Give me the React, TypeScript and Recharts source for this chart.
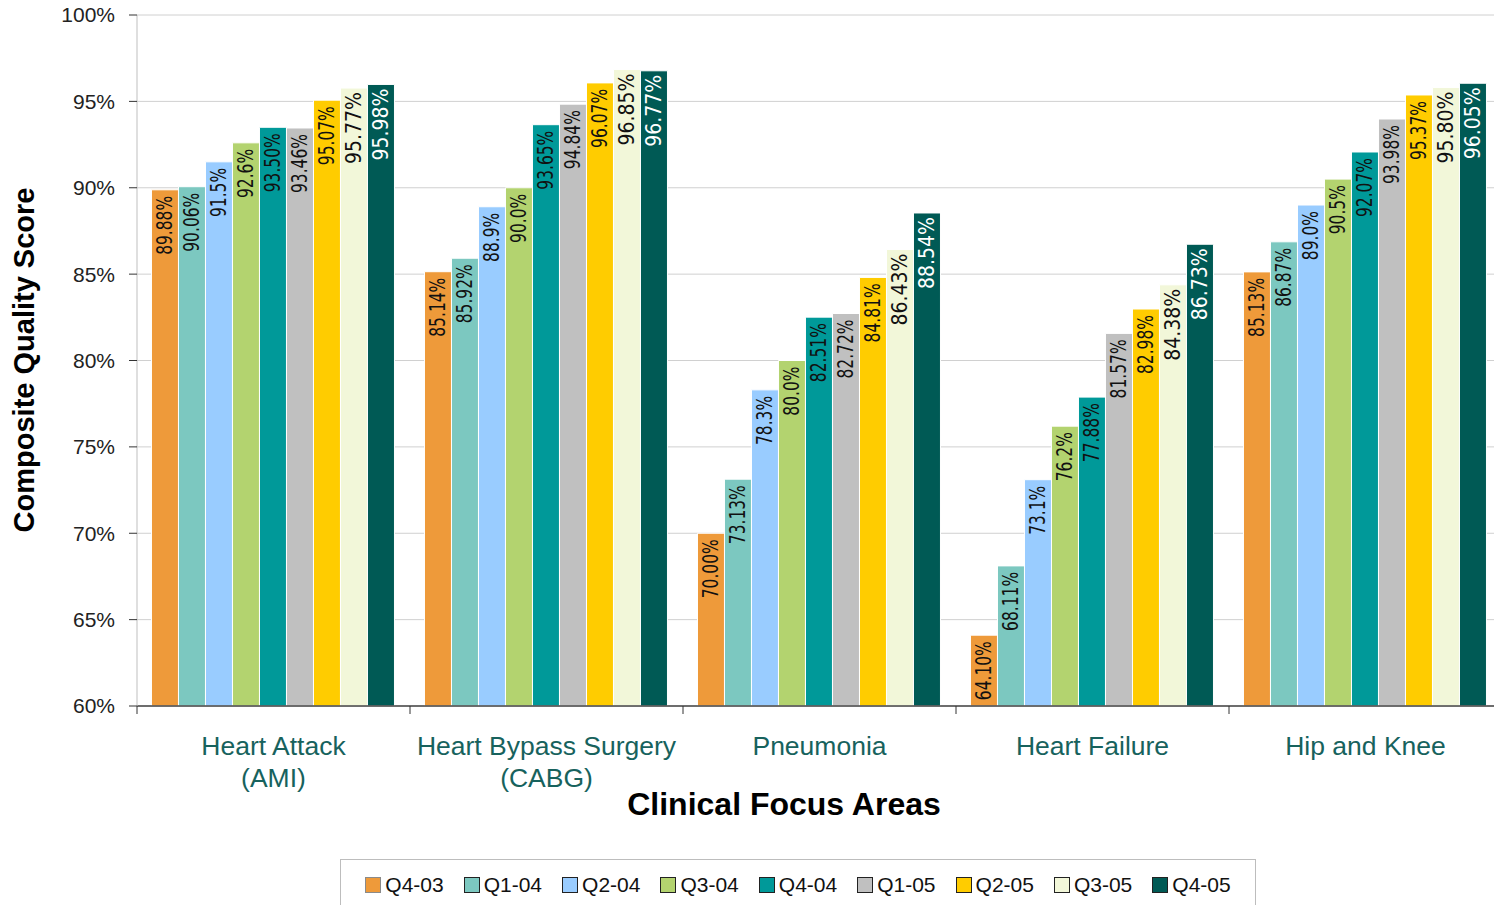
import React from 'react';
import { BarChart, Bar, XAxis, YAxis, CartesianGrid, Legend, LabelList, Label } from 'recharts';

const FONT = "'Liberation Sans', Arial, sans-serif";
const LABEL_FONT = "'DejaVu Sans Condensed', 'DejaVu Sans', sans-serif";

const categories = [
  'Heart Attack\n(AMI)',
  'Heart Bypass Surgery\n(CABG)',
  'Pneumonia',
  'Heart Failure',
  'Hip and Knee',
];

const q4_03 = [89.88, 85.14, 70.0, 64.1, 85.13];
const q1_04 = [90.06, 85.92, 73.13, 68.11, 86.87];
const q2_04 = [91.5, 88.9, 78.3, 73.1, 89.0];
const q3_04 = [92.6, 90.0, 80.0, 76.2, 90.5];
const q4_04 = [93.5, 93.65, 82.51, 77.88, 92.07];
const q1_05 = [93.46, 94.84, 82.72, 81.57, 93.98];
const q2_05 = [95.07, 96.07, 84.81, 82.98, 95.37];
const q3_05 = [95.77, 96.85, 86.43, 84.38, 95.8];
const q4_05 = [95.98, 96.77, 88.54, 86.73, 96.05];

const seriesNames = ['Q4-03', 'Q1-04', 'Q2-04', 'Q3-04', 'Q4-04', 'Q1-05', 'Q2-05', 'Q3-05', 'Q4-05'];
const seriesKeys = ['q4_03', 'q1_04', 'q2_04', 'q3_04', 'q4_04', 'q1_05', 'q2_05', 'q3_05', 'q4_05'];
const seriesValues = [q4_03, q1_04, q2_04, q3_04, q4_04, q1_05, q2_05, q3_05, q4_05];
const seriesColors = ['#EE9A3A', '#7CC8C0', '#99CCFF', '#B3D36F', '#009999', '#C0C0C0', '#FFCC00', '#F2F7D9', '#005A55'];
const seriesDigits = [2, 2, 1, 1, 2, 2, 2, 2, 2];
const labelColors = ['#111', '#111', '#111', '#111', '#111', '#111', '#111', '#111', '#FFFFFF'];
const legendBorders = ['#8A8A8A', '#222', '#222', '#222', '#222', '#222', '#222', '#222', '#222'];

const yTicks = [60, 65, 70, 75, 80, 85, 90, 95, 100];

const data = categories.map((c, i) => {
  const row: any = { category: c };
  seriesKeys.forEach((k, s) => {
    row[k] = seriesValues[s][i];
  });
  return row;
});

const makeLabel = (s: number) => (props: any) => {
  const { x, y, width, value } = props;
  if (value == null) return null;
  const cx = Number(x) + Number(width) / 2;
  const big = s >= 7;
  const top = Number(y) + (big ? 4 : 6);
  const text = `${Number(value).toFixed(seriesDigits[s])}%`;
  return (
    <text
      transform={`translate(${cx},${top}) rotate(-90) scale(${big ? 1 : 0.82},1)`}
      x={0}
      y={0}
      textAnchor="end"
      dominantBaseline="central"
      fontSize={21}
      fontFamily={LABEL_FONT}
      fill={labelColors[s]}
    >
      {text}
    </text>
  );
};

const XTick = (props: any) => {
  const { x, y, payload } = props;
  const half = payload && typeof payload.offset === 'number' && payload.offset > 0 ? payload.offset : 136.5;
  const lines = String(payload.value).split('\n');
  return (
    <g>
      <line x1={x - half} x2={x - half} y1={y} y2={y + 8} stroke="#333" strokeWidth={1} />
      {lines.map((l, i) => (
        <text
          key={i}
          x={x}
          y={y + 49 + i * 32}
          textAnchor="middle"
          fontSize={26.5}
          fill="#17625D"
          fontFamily={FONT}
        >
          {l}
        </text>
      ))}
    </g>
  );
};

const YTitle = () => (
  <text
    transform="translate(24,360) rotate(-90)"
    textAnchor="middle"
    dominantBaseline="central"
    fontSize={29}
    fontWeight="bold"
    fontFamily={FONT}
    fill="#000"
  >
    Composite Quality Score
  </text>
);

const XTitle = () => (
  <text x={784} y={815} textAnchor="middle" fontSize={32} fontWeight="bold" fontFamily={FONT} fill="#000">
    Clinical Focus Areas
  </text>
);

const renderLegend = () => (
  <div
    style={{
      border: '1px solid #BDBDBD',
      height: 70,
      boxSizing: 'border-box',
      display: 'flex',
      justifyContent: 'center',
      alignItems: 'flex-start',
      paddingTop: 13,
      gap: 20,
      fontFamily: FONT,
      fontSize: 21,
      color: '#111',
      background: '#fff',
    }}
  >
    {seriesNames.map((n, i) => (
      <div key={n} style={{ display: 'flex', alignItems: 'center', height: 24, lineHeight: '24px' }}>
        <span
          style={{
            display: 'inline-block',
            width: 14,
            height: 14,
            background: seriesColors[i],
            border: `1px solid ${legendBorders[i]}`,
            marginRight: 4,
          }}
        />
        <span>{n}</span>
      </div>
    ))}
  </div>
);

export default function App() {
  return (
    <div style={{ position: 'absolute', left: 0, top: 0, width: 1494, height: 905, overflow: 'hidden', background: '#fff' }}>
      <BarChart
        width={1510}
        height={905}
        data={data}
        margin={{ top: 15, right: 8, bottom: 99, left: 0 }}
        barCategoryGap="5.3%"
        barGap={0}
      >
        <CartesianGrid vertical={false} stroke="#D0D0D0" strokeWidth={1} />
        <XAxis
          dataKey="category"
          height={100}
          interval={0}
          tickLine={false}
          tickSize={0}
          tickMargin={0}
          axisLine={{ stroke: '#444', strokeWidth: 1.5 }}
          tick={<XTick />}
        >
          <Label content={<XTitle />} />
        </XAxis>
        <YAxis
          type="number"
          domain={[60, 100]}
          ticks={yTicks}
          interval={0}
          allowDataOverflow
          width={137}
          tickFormatter={(v: number) => `${v}%`}
          axisLine={{ stroke: '#BFBFBF' }}
          tickLine={{ stroke: '#333' }}
          tickSize={8}
          tickMargin={14}
          tick={{ fontSize: 21, fill: '#222', fontFamily: FONT }}
        >
          <Label content={<YTitle />} />
        </YAxis>
        <Legend
          layout="horizontal"
          verticalAlign="middle"
          align="center"
          width={916}
          content={renderLegend}
          wrapperStyle={{ left: 340, top: 859, width: 916, height: 70 }}
        />
        {seriesKeys.map((k, s) => (
          <Bar
            key={k}
            dataKey={k}
            name={seriesNames[s]}
            fill={seriesColors[s]}
            stroke="#FFFFFF"
            strokeWidth={1}
            isAnimationActive={false}
          >
            <LabelList dataKey={k} content={makeLabel(s)} />
          </Bar>
        ))}
      </BarChart>
    </div>
  );
}
